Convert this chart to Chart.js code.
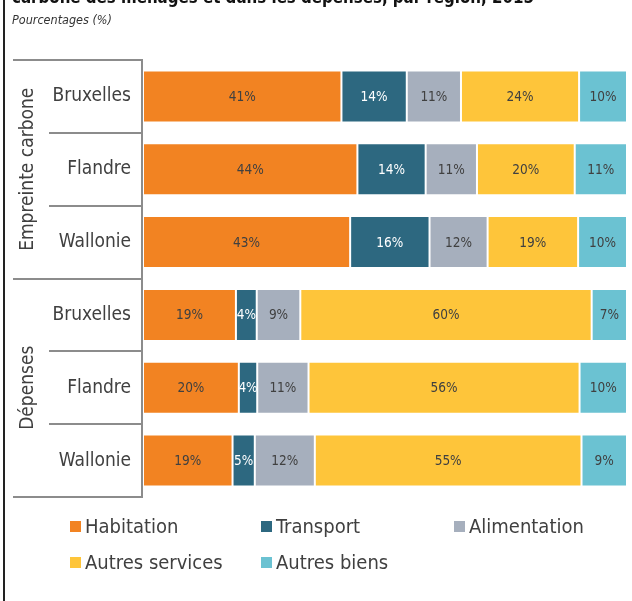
<!DOCTYPE html>
<html>
<head>
<meta charset="utf-8">
<script src="https://cdn.jsdelivr.net/npm/chart.js@4.4.1/dist/chart.umd.min.js"></script>
<style>
  body { margin: 0; background: #fff; }
  #wrap { position: relative; width: 632px; height: 601px; overflow: hidden; }
  #frame { position: absolute; left: 3px; top: 0; width: 1.5px; height: 601px; background: #222; }
  #title { position: absolute; left: 12px; top: -13px; white-space: nowrap;
           font: bold 17px "DejaVu Sans Condensed", "DejaVu Sans", sans-serif; color: #111; }
  #subtitle { position: absolute; left: 12px; top: 12px; white-space: nowrap;
              font: italic 12.5px "DejaVu Sans Condensed", "DejaVu Sans", sans-serif; color: #333; }
  #legend { position: absolute; left: 70px; top: 508px; display: grid;
            grid-template-columns: 191px 193px auto; grid-auto-rows: 36px; }
  .item { display: flex; align-items: center; font: 20px "DejaVu Sans Condensed", "DejaVu Sans", sans-serif; color: #404040; }
  .box { width: 11px; height: 11px; margin-right: 4px; flex: none; }
  canvas { position: absolute; left: 0; top: 0; }
</style>
</head>
<body>
<div id="wrap">
  <canvas id="c" width="632" height="601"></canvas>
  <div id="frame"></div>
  <div id="title">carbone des ménages et dans les dépenses, par région, 2015</div>
  <div id="subtitle">Pourcentages (%)</div>
  <div id="legend"></div>
</div>
<script>
// groups and regions (rows, top to bottom)
var groups = ['Empreinte carbone', 'Dépenses'];
var regions = ['Bruxelles', 'Flandre', 'Wallonie'];

// shares in %, one value per row
var habitation     = [41.0, 44.3, 42.8, 19.2, 19.8, 18.5];
var transport      = [13.5, 14.1, 16.4, 4.3, 3.8, 4.6];
var alimentation   = [11.2, 10.6, 12.0, 9.0, 10.6, 12.4];
var autresServices = [24.4, 20.2, 18.7, 60.2, 56.0, 55.1];
var autresBiens    = [9.9, 10.8, 10.1, 7.3, 9.8, 9.4];

var seriesNames = ['Habitation', 'Transport', 'Alimentation', 'Autres services', 'Autres biens'];
var seriesColors = ['#F28322', '#2D6880', '#A6AFBD', '#FEC53A', '#6BC2D2'];
var seriesValues = [habitation, transport, alimentation, autresServices, autresBiens];

var FONT = '"DejaVu Sans Condensed", "DejaVu Sans", sans-serif';
var TEXT = '#404040';

var labels = [];
groups.forEach(function () {
    regions.forEach(function (r) { labels.push(r); });
});

// fit the clipped title to its width in the reference
(function () {
    var t = document.getElementById('title');
    var ctx = document.createElement('canvas').getContext('2d');
    ctx.font = 'bold 20px ' + FONT;
    var w = ctx.measureText(t.textContent).width;
    t.style.fontSize = (20 * 522 / w).toFixed(2) + 'px';
})();

// legend
var legend = document.getElementById('legend');
seriesNames.forEach(function (name, i) {
    var item = document.createElement('div');
    item.className = 'item';
    var box = document.createElement('span');
    box.className = 'box';
    box.style.background = seriesColors[i];
    item.appendChild(box);
    item.appendChild(document.createTextNode(name));
    legend.appendChild(item);
});

var bracketPlugin = {
    id: 'brackets',
    afterDraw: function (chart) {
        var ctx = chart.ctx;
        var y = chart.scales.y;
        var area = chart.chartArea;
        var n = labels.length;
        ctx.save();
        ctx.strokeStyle = '#8c8c8c';
        ctx.lineWidth = 2;
        for (var i = 0; i <= n; i++) {
            var py = Math.round(y.getPixelForValue(i - 0.5));
            var x0 = (i % regions.length === 0) ? 13 : 49;
            ctx.beginPath();
            ctx.moveTo(x0, py);
            ctx.lineTo(area.left, py);
            ctx.stroke();
        }
        ctx.beginPath();
        ctx.moveTo(area.left - 1, y.getPixelForValue(-0.5) - 1);
        ctx.lineTo(area.left - 1, y.getPixelForValue(n - 0.5) + 1);
        ctx.stroke();

        ctx.fillStyle = TEXT;
        ctx.font = '19px ' + FONT;
        ctx.textAlign = 'center';
        ctx.textBaseline = 'middle';
        groups.forEach(function (g, k) {
            var top = y.getPixelForValue(k * regions.length - 0.5);
            var bot = y.getPixelForValue((k + 1) * regions.length - 0.5);
            ctx.save();
            ctx.translate(28, (top + bot) / 2);
            ctx.rotate(-Math.PI / 2);
            ctx.fillText(g, 0, 0);
            ctx.restore();
        });
        ctx.restore();
    }
};

var valueLabelPlugin = {
    id: 'valueLabels',
    afterDatasetsDraw: function (chart) {
        var ctx = chart.ctx;
        ctx.save();
        ctx.font = '13.5px ' + FONT;
        ctx.textAlign = 'center';
        ctx.textBaseline = 'middle';
        chart.data.datasets.forEach(function (ds, i) {
            var meta = chart.getDatasetMeta(i);
            ctx.fillStyle = i === 1 ? '#ffffff' : TEXT;
            meta.data.forEach(function (bar, j) {
                ctx.fillText(Math.round(ds.data[j]) + '%', (bar.x + bar.base) / 2, bar.y + 1);
            });
        });
        ctx.restore();
    }
};

var chart = new Chart(document.getElementById('c').getContext('2d'), {
    type: 'bar',
    data: {
        labels: labels,
        datasets: seriesNames.map(function (name, i) {
            return {
                label: name,
                data: seriesValues[i],
                backgroundColor: seriesColors[i],
                borderColor: 'rgba(255,255,255,0.55)',
                borderWidth: 1,
                borderSkipped: false,
                categoryPercentage: 1,
                barPercentage: 0.715
            };
        })
    },
    options: {
        indexAxis: 'y',
        responsive: false,
        animation: false,
        devicePixelRatio: 1,
        layout: { padding: { left: 0, top: 60, right: 5, bottom: 104 } },
        plugins: {
            legend: { display: false },
            tooltip: { enabled: false }
        },
        scales: {
            x: { stacked: true, min: 0, max: 100, display: false },
            y: {
                stacked: true,
                grid: { display: false, drawTicks: false },
                border: { display: false },
                ticks: { color: TEXT, font: { family: FONT, size: 19 }, padding: 12 },
                afterFit: function (scale) { scale.width = 143; }
            }
        }
    },
    plugins: [bracketPlugin, valueLabelPlugin]
});
</script>
</body>
</html>
